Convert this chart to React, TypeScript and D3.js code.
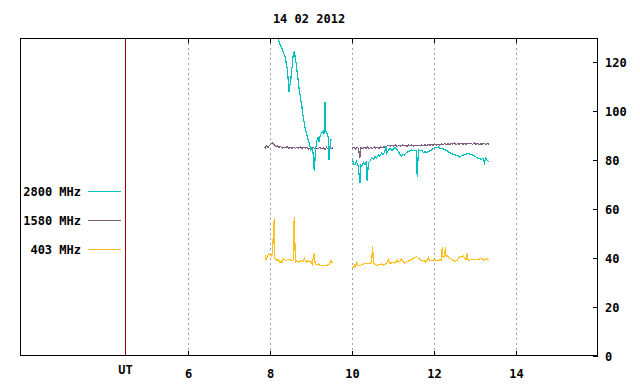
import React from "react";
import * as d3 from "d3";

// hours UT, flux values
const title = "14 02 2012";
const xTicks = [6, 8, 10, 12, 14];
const yTicks = [0, 20, 40, 60, 80, 100, 120];
const utHour = 4.46;

const legend = [
  { label: "2800 MHz", color: "#00c0c0" },
  { label: "1580 MHz", color: "#806080" },
  { label: "403 MHz", color: "#ffc020" },
];

type Pt = [number, number];

const f2800a: Pt[] = [
  [7.85, 152], [7.95, 144], [8.05, 137], [8.12, 133], [8.195, 129.6], [8.24, 127.5], [8.285, 126],
  [8.33, 123.8], [8.366, 122.7], [8.39, 120.2], [8.407, 119], [8.43, 115.8], [8.446, 112.5],
  [8.463, 108], [8.48, 110.6], [8.505, 111.8], [8.52, 115.5], [8.544, 119], [8.568, 123.4],
  [8.59, 124.2], [8.61, 122.7], [8.63, 120.4], [8.651, 118], [8.67, 114.6], [8.69, 112.5],
  [8.71, 109.2], [8.732, 107], [8.75, 104.6], [8.773, 103], [8.79, 99.8], [8.812, 97.5],
  [8.83, 95.8], [8.854, 93.3], [8.875, 92.2], [8.895, 90.6], [8.915, 89.6], [8.934, 87.9],
  [8.955, 87.2], [8.976, 85.8], [9.0, 84.2], [9.017, 85], [9.05, 83], [9.08, 75.5], [9.11, 84],
  [9.14, 88], [9.17, 89.4], [9.2, 87.6], [9.22, 90], [9.26, 91.3], [9.3, 92], [9.32, 90.8],
  [9.34, 104], [9.355, 92], [9.38, 91.5], [9.42, 89.3], [9.44, 80], [9.48, 88.6], [9.52, 88.6],
];

const f2800b: Pt[] = [
  [10.007, 80.4], [10.04, 78.5], [10.07, 78.3], [10.11, 79.5], [10.15, 77.6], [10.195, 70.8],
  [10.22, 78], [10.235, 77.6], [10.28, 79.2], [10.32, 78.3], [10.35, 79.5], [10.37, 71.5],
  [10.4, 79], [10.44, 79.7], [10.48, 81], [10.52, 80.4], [10.56, 81.5], [10.6, 81], [10.64, 82.2],
  [10.68, 81.7], [10.72, 83], [10.76, 82.4], [10.8, 83.5], [10.83, 85.8], [10.85, 83],
  [10.88, 83.8], [10.93, 84.9], [10.97, 84], [11.01, 84.5], [11.05, 85.2], [11.09, 84.5],
  [11.12, 83.8], [11.15, 83.1], [11.18, 82.2], [11.21, 81.7], [11.24, 82.5], [11.27, 82.1],
  [11.3, 82.8], [11.33, 83.1], [11.37, 83.6], [11.41, 83.8], [11.45, 84.2], [11.49, 83.8],
  [11.54, 84.1], [11.575, 83.9], [11.59, 73.1], [11.62, 84.2], [11.66, 83.8], [11.7, 84],
  [11.74, 83.3], [11.78, 83.5], [11.82, 83.1], [11.86, 83.6], [11.9, 83.8], [11.94, 84.3],
  [11.98, 84.7], [12.02, 85.3], [12.07, 85.1], [12.11, 85.5], [12.15, 84.9], [12.19, 84.9],
  [12.23, 84.6], [12.27, 84.3], [12.31, 84.1], [12.35, 83.5], [12.39, 83.1], [12.43, 82.8],
  [12.47, 82.4], [12.51, 82.3], [12.55, 82], [12.59, 81.8], [12.63, 81.3], [12.67, 81.9],
  [12.71, 82.1], [12.76, 82.3], [12.8, 82.6], [12.84, 82.8], [12.88, 82.4], [12.92, 82.4],
  [12.96, 82], [13.0, 81.7], [13.04, 81.2], [13.08, 80.8], [13.12, 80.6], [13.16, 80.4],
  [13.19, 80.9], [13.23, 79], [13.26, 80.8], [13.28, 80.4], [13.31, 79.8], [13.34, 79.4],
];

const f1580a: Pt[] = [
  [7.85, 85.5], [7.88, 85.0], [7.91, 85.8], [7.95, 85.2], [7.99, 86.1], [8.03, 86.8], [8.07, 87.2],
  [8.1, 86.5], [8.14, 85.6], [8.18, 85.9], [8.22, 85.3], [8.26, 85.6], [8.3, 84.9], [8.34, 85.4],
  [8.38, 85.1], [8.42, 85.6], [8.46, 84.8], [8.5, 85.2], [8.54, 85.0], [8.58, 85.4], [8.62, 84.9],
  [8.66, 85.3], [8.7, 85.0], [8.74, 85.5], [8.78, 84.8], [8.82, 85.3], [8.86, 85.0], [8.9, 85.2],
  [8.94, 84.7], [8.98, 85.1], [9.02, 84.9], [9.06, 85.3], [9.1, 84.6], [9.14, 85.0], [9.18, 84.9],
  [9.22, 85.2], [9.26, 84.7], [9.3, 85.0], [9.34, 84.4], [9.38, 85.3], [9.42, 84.5], [9.46, 85.1],
  [9.5, 84.8], [9.53, 85.2],
];

const f1580b: Pt[] = [
  [10.0, 84.8], [10.04, 85.3], [10.08, 84.6], [10.12, 85.2], [10.16, 84.9], [10.19, 81.0],
  [10.22, 85.1], [10.26, 84.7], [10.3, 85.3], [10.34, 84.8], [10.38, 85.4], [10.42, 84.9],
  [10.46, 85.2], [10.5, 84.8], [10.54, 85.5], [10.58, 85.0], [10.62, 85.3], [10.66, 84.9],
  [10.7, 85.4], [10.74, 85.1], [10.78, 85.5], [10.82, 85.0], [10.86, 86.0], [10.9, 86.2],
  [10.94, 85.8], [10.98, 86.1], [11.02, 85.8], [11.06, 86.2], [11.1, 85.7], [11.14, 86.0],
  [11.18, 85.8], [11.22, 86.3], [11.26, 85.9], [11.3, 86.1], [11.34, 85.7], [11.38, 86.2],
  [11.42, 85.9], [11.46, 86.3], [11.5, 85.8], [11.54, 86.1], [11.58, 85.9], [11.62, 86.2],
  [11.66, 85.9], [11.7, 86.3], [11.74, 86.0], [11.78, 86.4], [11.82, 86.1], [11.86, 86.5],
  [11.9, 86.2], [11.94, 86.4], [11.98, 86.1], [12.02, 86.5], [12.06, 86.3], [12.1, 86.6],
  [12.14, 86.2], [12.18, 86.7], [12.22, 86.4], [12.26, 86.9], [12.3, 86.5], [12.34, 86.8],
  [12.38, 86.4], [12.42, 86.9], [12.46, 86.6], [12.5, 87.0], [12.54, 86.5], [12.58, 86.8],
  [12.62, 86.6], [12.66, 87.1], [12.7, 86.5], [12.74, 86.9], [12.78, 86.6], [12.82, 87.0],
  [12.86, 86.7], [12.9, 86.9], [12.94, 86.5], [12.98, 87.1], [13.02, 86.6], [13.06, 86.9],
  [13.1, 86.4], [13.14, 86.8], [13.18, 86.6], [13.22, 86.9], [13.26, 86.5], [13.3, 86.8],
  [13.34, 86.6],
];

const f403a: Pt[] = [
  [7.88, 41.4], [7.89, 39.4], [7.92, 39.8], [7.96, 41.7], [8.0, 41.4], [8.04, 40.7], [8.065, 42.5],
  [8.08, 49.9], [8.105, 56.5], [8.11, 41], [8.12, 40], [8.16, 39], [8.2, 39.4], [8.24, 38.4],
  [8.3, 38.4], [8.32, 39.8], [8.37, 39.2], [8.4, 39.0], [8.44, 39.6], [8.49, 39.4], [8.53, 38.9],
  [8.57, 39.4], [8.59, 56.9], [8.62, 38.4], [8.65, 38.9], [8.69, 38.4], [8.73, 38.8], [8.77, 39.0],
  [8.8, 38.5], [8.84, 39.8], [8.87, 38.7], [8.89, 38.4], [8.93, 39.0], [8.98, 38.4], [9.0, 38.8],
  [9.03, 37.6], [9.08, 42.1], [9.1, 38], [9.13, 37.3], [9.18, 37.6], [9.22, 37.0], [9.26, 36.9],
  [9.3, 37.0], [9.34, 36.9], [9.38, 37.1], [9.44, 37.3], [9.49, 39], [9.52, 38],
];

const f403b: Pt[] = [
  [10.01, 35.9], [10.06, 37], [10.085, 36.3], [10.11, 38.4], [10.15, 37], [10.2, 37.1],
  [10.24, 37.3], [10.28, 37.6], [10.32, 38], [10.36, 37.7], [10.4, 37.9], [10.44, 38],
  [10.48, 38.2], [10.5, 44.8], [10.53, 38], [10.56, 37.5], [10.6, 37], [10.64, 37.4], [10.68, 37.3],
  [10.72, 37.6], [10.76, 37.2], [10.8, 37.4], [10.84, 38], [10.89, 39.4], [10.91, 38], [10.97, 38],
  [11.01, 38.2], [11.05, 38], [11.11, 39.4], [11.13, 38.3], [11.17, 38.7], [11.21, 39.8],
  [11.24, 38.6], [11.28, 38], [11.32, 38.5], [11.37, 38.7], [11.41, 39.1], [11.46, 39.4],
  [11.5, 40.0], [11.54, 40.3], [11.58, 40.6], [11.62, 39.8], [11.66, 39.5], [11.68, 39],
  [11.72, 38.8], [11.76, 39], [11.79, 38.4], [11.82, 38.5], [11.86, 40.3], [11.89, 39], [11.93, 39],
  [11.97, 39.2], [12.01, 39.4], [12.05, 39.2], [12.09, 39], [12.12, 39.2], [12.15, 39.4],
  [12.18, 39.1], [12.2, 44.4], [12.22, 40.5], [12.24, 40.3], [12.255, 41], [12.28, 44.4],
  [12.29, 41], [12.31, 40.7], [12.34, 40.9], [12.37, 40], [12.4, 39.8], [12.43, 39.4], [12.47, 39],
  [12.51, 38.7], [12.55, 38.9], [12.59, 39.8], [12.63, 40.7], [12.66, 40.9], [12.69, 40.3],
  [12.72, 40.8], [12.76, 39.8], [12.79, 39.5], [12.81, 42.1], [12.83, 39.2], [12.85, 39],
  [12.89, 39.4], [12.92, 39.6], [12.96, 39.4], [13.0, 39.3], [13.04, 39.4], [13.08, 39.4],
  [13.12, 39.7], [13.16, 40], [13.19, 39.5], [13.23, 39], [13.26, 39.6], [13.28, 39.4],
  [13.31, 39.7], [13.34, 39.4],
];

const series = [
  { color: legend[2].color, segs: [f403a, f403b] },
  { color: legend[1].color, segs: [f1580a, f1580b] },
  { color: legend[0].color, segs: [f2800a, f2800b] },
];

const W = 640;
const H = 384;
const left = 20;
const right = 598;
const top = 38;
const bottom = 356;
const font = "'DejaVu Sans Mono', 'Liberation Mono', monospace";

export default function App() {
  const x = d3.scaleLinear().domain([6, 14]).range([188, 516]);
  const y = d3.scaleLinear().domain([0, 130]).range([bottom, top]);
  const line = d3
    .line<Pt>()
    .x((d) => x(d[0]))
    .y((d) => y(d[1]));
  const utX = Math.round(x(utHour)) + 0.5;

  return (
    <svg
      width={W}
      height={H}
      style={{ position: "absolute", left: 0, top: 0, background: "#fff" }}
      fontFamily={font}
      fontWeight="bold"
      fontSize={12}
    >
      <rect x={0} y={0} width={W} height={H} fill="#fff" />
      <defs>
        <clipPath id="plot">
          <rect x={utX} y={top} width={right - utX} height={bottom - top} />
        </clipPath>
      </defs>

      <text x={(left + right) / 2} y={23} textAnchor="middle" fill="#000">
        {title}
      </text>

      {/* dotted grid */}
      {xTicks.map((t) => {
        const px = Math.round(x(t)) + 0.5;
        return (
          <g key={t}>
            <line x1={px} x2={px} y1={top} y2={bottom} stroke="#a0a0a0" strokeDasharray="2,3" shapeRendering="crispEdges" />
            <line x1={px} x2={px} y1={top} y2={top + 5} stroke="#000" shapeRendering="crispEdges" />
            <line x1={px} x2={px} y1={bottom - 5} y2={bottom} stroke="#000" shapeRendering="crispEdges" />
            <text x={px} y={378} textAnchor="middle" fill="#000">
              {t}
            </text>
          </g>
        );
      })}

      {/* right axis */}
      {yTicks.map((v) => {
        const py = Math.round(y(v)) + 0.5;
        return (
          <g key={v}>
            <line x1={right - 5} x2={right} y1={py} y2={py} stroke="#000" shapeRendering="crispEdges" />
            <text x={605} y={py + 4.5} fill="#000">
              {v}
            </text>
          </g>
        );
      })}

      {/* data */}
      <g clipPath="url(#plot)" fill="none">
        {series.map((s, i) =>
          s.segs.map((seg, j) => (
            <path
              key={`${i}-${j}`}
              d={line(seg) || ""}
              stroke={s.color}
              strokeWidth={1.2}
              shapeRendering="crispEdges"
            />
          ))
        )}
      </g>

      {/* UT separator */}
      <line x1={utX} x2={utX} y1={top} y2={bottom} stroke="#a00000" shapeRendering="crispEdges" />
      <text x={utX} y={374} textAnchor="middle" fill="#000">
        UT
      </text>

      {/* legend */}
      {legend.map((l, i) => {
        const ly = 191.5 + i * 29;
        return (
          <g key={l.label}>
            <text x={81} y={ly + 4.5} textAnchor="end" fill="#000">
              {l.label}
            </text>
            <line x1={88} x2={121} y1={ly} y2={ly} stroke={l.color} shapeRendering="crispEdges" />
          </g>
        );
      })}

      {/* frame */}
      <rect
        x={left + 0.5}
        y={top + 0.5}
        width={right - left - 1}
        height={bottom - top - 1}
        fill="none"
        stroke="#000"
        shapeRendering="crispEdges"
      />
    </svg>
  );
}
